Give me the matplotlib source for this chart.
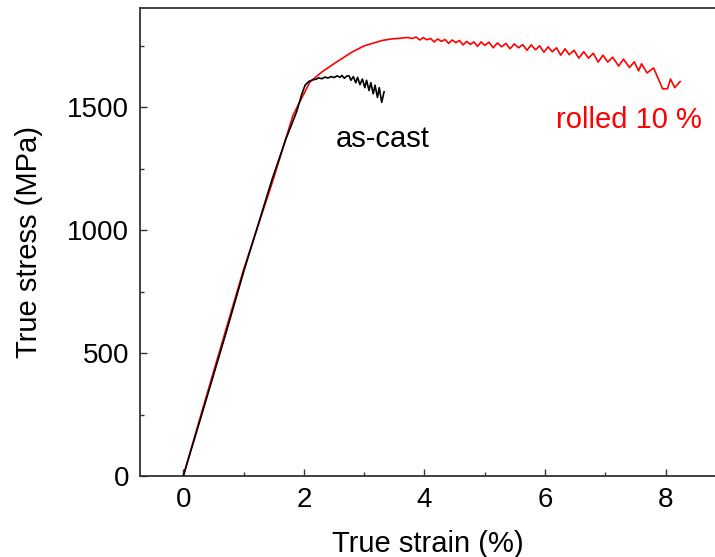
import matplotlib
matplotlib.use("Agg")
import matplotlib.pyplot as plt
from matplotlib.ticker import MultipleLocator

# ---- data ----
ascast_strain = [0.00, 0.30, 0.70, 1.00, 1.47, 1.70, 1.88, 1.96, 2.02, 2.08, 2.15,
                 2.20, 2.25, 2.30, 2.35, 2.40, 2.45, 2.50, 2.55, 2.60, 2.63, 2.67, 2.71,
                 2.75, 2.78, 2.82, 2.86, 2.89, 2.93, 2.97, 3.01, 3.04, 3.08, 3.11, 3.15,
                 3.18, 3.22, 3.25, 3.29, 3.33]
ascast_stress = [0, 245, 575, 830, 1205, 1370, 1482, 1550, 1590, 1605, 1612,
                 1614, 1620, 1616, 1623, 1619, 1625, 1621, 1628, 1622, 1630, 1618, 1627,
                 1628, 1610, 1625, 1600, 1622, 1592, 1615, 1580, 1610, 1568, 1600, 1555,
                 1590, 1540, 1580, 1520, 1563]

rolled_strain = [0.00, 0.30, 0.70, 1.00, 1.49, 1.82, 2.10, 2.30, 2.54, 2.80, 3.00, 3.30,
                 3.45, 3.60, 3.72, 3.80, 3.86, 3.92, 3.98, 4.04, 4.10, 4.16, 4.22, 4.28,
                 4.34, 4.40, 4.46, 4.52, 4.58, 4.64, 4.70, 4.76, 4.82, 4.88, 4.94, 5.00,
                 5.07, 5.14, 5.21, 5.28, 5.35, 5.42, 5.49, 5.56, 5.63, 5.70, 5.77, 5.84,
                 5.91, 5.98, 6.05, 6.12, 6.19, 6.26, 6.33, 6.40, 6.48, 6.56, 6.64, 6.72,
                 6.80, 6.88, 6.96, 7.04, 7.12, 7.22, 7.30, 7.40, 7.48, 7.55, 7.60, 7.69,
                 7.80, 7.95, 8.03, 8.08, 8.15, 8.24]
rolled_stress = [0, 255, 590, 840, 1205, 1468, 1603, 1644, 1684, 1725, 1750, 1772,
                 1778, 1781, 1784, 1780, 1786, 1774, 1783, 1775, 1780, 1766, 1778, 1768,
                 1776, 1760, 1774, 1763, 1772, 1754, 1768, 1756, 1766, 1748, 1766, 1752,
                 1765, 1742, 1762, 1746, 1760, 1738, 1758, 1742, 1755, 1732, 1754, 1734,
                 1750, 1724, 1746, 1726, 1742, 1712, 1738, 1714, 1732, 1700, 1726, 1700,
                 1720, 1684, 1712, 1684, 1704, 1668, 1696, 1662, 1685, 1648, 1677, 1640,
                 1660, 1575, 1575, 1615, 1580, 1605]

x_ticks = [0, 2, 4, 6, 8]
y_ticks = [0, 500, 1000, 1500]

plt.rcParams['font.family'] = ['Liberation Sans', 'DejaVu Sans']

fig = plt.figure(figsize=(7.15, 5.57), dpi=100)
ax = fig.add_axes([140/715, 1 - 476/557, 1 - 140/715, (476 - 8)/557])

ax.plot(rolled_strain, rolled_stress, color='#ff0000', lw=1.2, zorder=2)
ax.plot(ascast_strain, ascast_stress, color='black', lw=1.2, zorder=3)

ax.text(3.31, 1373, 'as-cast', fontsize=21, color='black', ha='center', va='center')
ax.text(7.39, 1450, 'rolled 10 %', fontsize=21, color='#ff0000', ha='center', va='center')

ax.set_xlim(-0.718, 8.818)
ax.set_ylim(0, 1904)
ax.set_xticks(x_ticks)
ax.set_yticks(y_ticks)
ax.xaxis.set_minor_locator(MultipleLocator(1))
ax.yaxis.set_minor_locator(MultipleLocator(250))
ax.tick_params(which='major', direction='in', length=5, width=1.0, labelsize=20,
               pad=8, color='#333333', top=False, right=False)
ax.tick_params(which='minor', direction='in', length=3, width=1.0, color='#333333',
               top=False, right=False)

for side in ['left', 'bottom', 'top']:
    ax.spines[side].set_color('#333333')
    ax.spines[side].set_linewidth(1.3)
ax.spines['right'].set_visible(False)

ax.set_xlabel('True strain (%)', fontsize=21, labelpad=12)
ax.set_ylabel('True stress (MPa)', fontsize=21, labelpad=17)

fig.savefig('out.png', dpi=100)
